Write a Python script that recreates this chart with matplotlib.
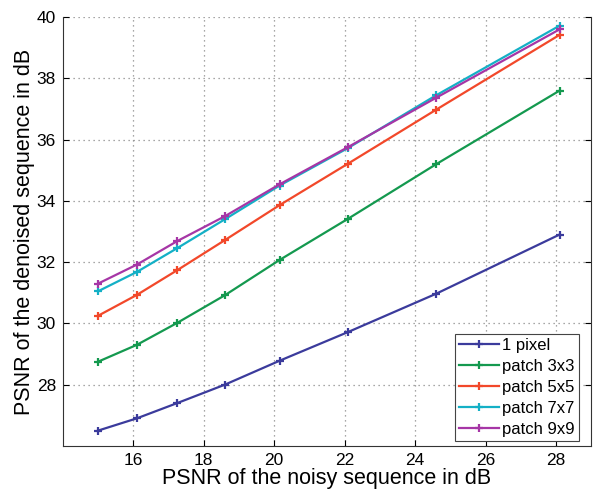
import matplotlib
matplotlib.use('Agg')
import matplotlib.pyplot as plt

plt.rcParams['font.family'] = ['Liberation Sans', 'DejaVu Sans']

# ------------------------------------------------------------------ data
noisy_psnr = [15.0, 16.1, 17.25, 18.6, 20.15, 22.1, 24.6, 28.1]

series_labels = ['1 pixel', 'patch 3x3', 'patch 5x5', 'patch 7x7', 'patch 9x9']
pixel_1 = [26.5, 26.9, 27.4, 28.0, 28.78, 29.72, 30.97, 32.9]
patch_3 = [28.75, 29.3, 30.02, 30.92, 32.07, 33.42, 35.2, 37.6]
patch_5 = [30.25, 30.93, 31.74, 32.72, 33.86, 35.22, 36.98, 39.42]
patch_7 = [31.05, 31.68, 32.46, 33.4, 34.5, 35.73, 37.45, 39.72]
patch_9 = [31.3, 31.92, 32.69, 33.5, 34.54, 35.76, 37.37, 39.6]

colors = ['#3b3b9c', '#14994f', '#f2482a', '#14b0c6', '#a636a6']

# ------------------------------------------------------------------ figure
fig = plt.figure(figsize=(5.99, 4.9), dpi=100)
ax = fig.add_axes([0.105, 0.09, 0.882, 0.875])

for ys, lab, c in zip([pixel_1, patch_3, patch_5, patch_7, patch_9], series_labels, colors):
    ax.plot(noisy_psnr, ys, '-', marker='+', color=c, lw=1.6, ms=6, mew=1.6, label=lab)

ax.set_xlim(14, 29)
ax.set_ylim(26, 40)
ax.set_xticks([16, 18, 20, 22, 24, 26, 28])
ax.set_yticks([28, 30, 32, 34, 36, 38, 40])
ax.tick_params(direction='in', labelsize=12.5, length=4, top=False, right=True, pad=5)
ax.grid(True, ls=(0, (1, 3)), color='#8a8a8a', lw=0.9)
ax.spines['top'].set_visible(False)
for s in ['left', 'right', 'bottom']:
    ax.spines[s].set_color('#333333')

ax.set_xlabel('PSNR of the noisy sequence in dB', fontsize=15.5, labelpad=0)
ax.set_ylabel('PSNR of the denoised sequence in dB', fontsize=15.5, labelpad=1)

leg = ax.legend(loc='lower right', fontsize=12, handlelength=2.4, handletextpad=0.2,
                labelspacing=0.35, borderpad=0.25, borderaxespad=0, fancybox=False,
                framealpha=1, bbox_to_anchor=(0.977, 0.012))
leg.get_frame().set_edgecolor('#444444')
leg.get_frame().set_linewidth(0.8)

plt.savefig('out.png', dpi=100)
